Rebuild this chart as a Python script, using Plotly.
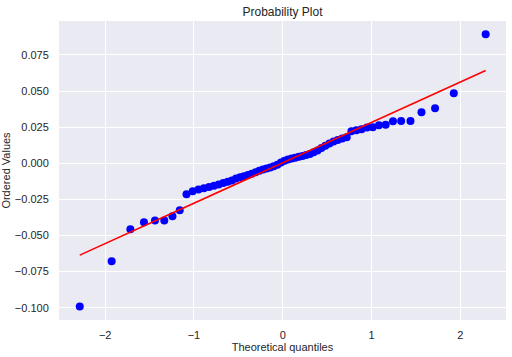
import plotly.graph_objects as go

# Theoretical quantiles (62 points)
theoretical_q = [
    -2.286, -1.927, -1.716, -1.563, -1.439, -1.334, -1.242, -1.160, -1.084, -1.014,
    -0.949, -0.888, -0.830, -0.774, -0.721, -0.670, -0.620, -0.573, -0.526, -0.480,
    -0.436, -0.392, -0.349, -0.306, -0.264, -0.223, -0.182, -0.141, -0.101, -0.060,
    -0.020, 0.020, 0.060, 0.101, 0.141, 0.182, 0.223, 0.264, 0.306, 0.349,
    0.392, 0.436, 0.480, 0.526, 0.573, 0.620, 0.670, 0.721, 0.774, 0.830,
    0.888, 0.949, 1.014, 1.084, 1.160, 1.242, 1.334, 1.439, 1.563, 1.716,
    1.927, 2.286,
]

# Ordered values
ordered_vals = [
    -0.0991, -0.0679, -0.0457, -0.0409, -0.0396, -0.0396, -0.0367, -0.0326, -0.0215, -0.0194,
    -0.0182, -0.0173, -0.0165, -0.0156, -0.0147, -0.0136, -0.0128, -0.0120, -0.0106, -0.0097,
    -0.0089, -0.0081, -0.0072, -0.0062, -0.0052, -0.0043, -0.0036, -0.0029, -0.0021, -0.0010,
    0.0005, 0.0018, 0.0026, 0.0033, 0.0039, 0.0045, 0.0051, 0.0057, 0.0065, 0.0076,
    0.0089, 0.0106, 0.0121, 0.0137, 0.0150, 0.0161, 0.0171, 0.0181, 0.0222, 0.0229,
    0.0236, 0.0247, 0.0249, 0.0263, 0.0267, 0.0291, 0.0292, 0.0293, 0.0353, 0.0381,
    0.0485, 0.0894,
]

# Least-squares fit line parameters
fit_slope = 0.02795
fit_intercept = 0.0003

y_ticks = [-0.100, -0.075, -0.050, -0.025, 0.000, 0.025, 0.050, 0.075]
x_ticks = [-2, -1, 0, 1, 2]

line_x = [theoretical_q[0], theoretical_q[-1]]
line_y = [fit_slope * v + fit_intercept for v in line_x]

font_family = "Liberation Sans, Arial, sans-serif"
text_color = "#262626"

fig = go.Figure()
fig.add_trace(go.Scatter(
    x=theoretical_q, y=ordered_vals, mode="markers",
    marker=dict(color="#0000FF", size=8, line=dict(width=0)),
    showlegend=False,
))
fig.add_trace(go.Scatter(
    x=line_x, y=line_y, mode="lines",
    line=dict(color="#FF0000", width=1.6),
    showlegend=False,
))

fig.update_layout(
    width=512, height=357,
    margin=dict(l=59, r=6, t=21, b=37),
    paper_bgcolor="white",
    plot_bgcolor="#EAEAF2",
    font=dict(family=font_family, size=11, color=text_color),
    title=dict(text="Probability Plot", x=0.5, xref="paper", xanchor="center",
               y=1 - 12 / 357, yref="container", yanchor="middle",
               font=dict(size=12, color=text_color)),
    xaxis=dict(
        range=[-2.52, 2.515], tickvals=x_ticks, ticktext=[str(v).replace("-", "−") for v in x_ticks],
        showgrid=True, gridcolor="white", gridwidth=1, zeroline=False, showline=False,
        ticks="outside", ticklen=5, tickcolor="rgba(0,0,0,0)",
        title=dict(text="Theoretical quantiles", standoff=0, font=dict(size=11)),
        automargin=False,
    ),
    yaxis=dict(
        range=[-0.1085, 0.0985], tickvals=y_ticks, tickformat=".3f",
        showgrid=True, gridcolor="white", gridwidth=1, zeroline=False, showline=False,
        ticks="outside", ticklen=7, tickcolor="rgba(0,0,0,0)",
        title=dict(text="Ordered Values", standoff=3, font=dict(size=11)),
        automargin=False,
    ),
)

fig.write_html("out.html", config={"displayModeBar": False},
               post_script="document.body.style.margin='0';document.body.style.padding='0';")
